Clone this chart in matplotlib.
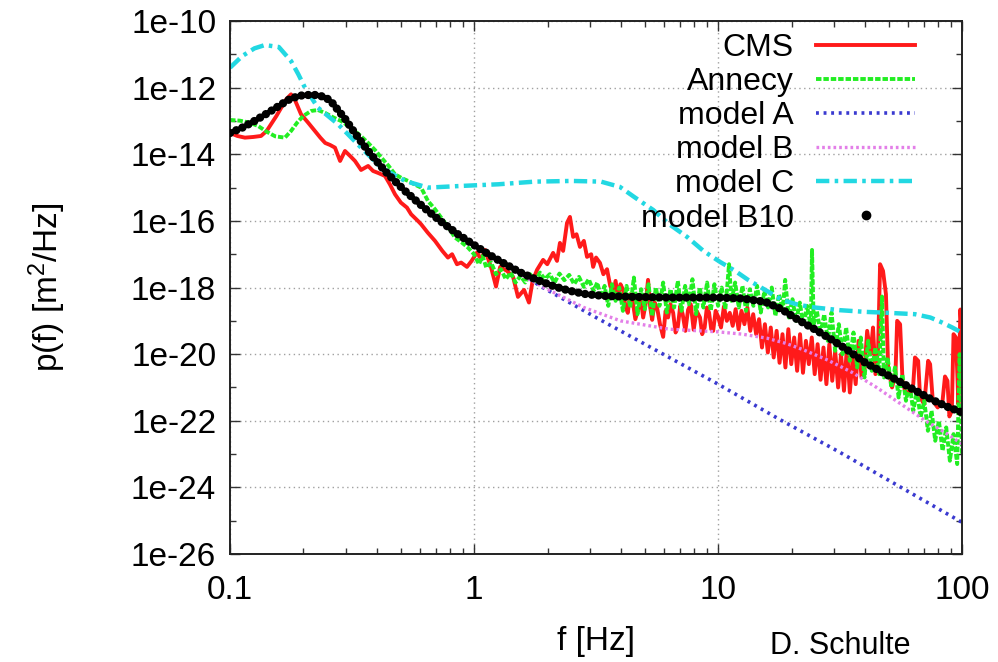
import numpy as np
import matplotlib.pyplot as plt
from matplotlib.lines import Line2D
from matplotlib.ticker import FixedLocator, FuncFormatter, NullFormatter

plt.rcParams['font.family'] = ['Liberation Sans', 'DejaVu Sans']
plt.rcParams['mathtext.fontset'] = 'custom'
plt.rcParams['mathtext.rm'] = 'Liberation Sans'
plt.rcParams['mathtext.it'] = 'Liberation Sans'

# (log10 f, log10 p)
cms = np.array([
    (-1.000, -13.36), (-0.970, -13.45), (-0.939, -13.50), (-0.905, -13.48), (-0.873, -13.45),
    (-0.850, -13.30), (-0.832, -13.10), (-0.810, -12.85), (-0.790, -12.60), (-0.770, -12.35),
    (-0.750, -12.20), (-0.734, -12.37), (-0.709, -12.80), (-0.680, -13.05), (-0.652, -13.30),
    (-0.630, -13.50), (-0.610, -13.66), (-0.590, -13.72), (-0.570, -13.80), (-0.549, -14.20),
    (-0.529, -13.90), (-0.508, -14.05), (-0.488, -14.20), (-0.463, -14.47), (-0.434, -14.35),
    (-0.414, -14.50), (-0.393, -14.56), (-0.365, -14.65), (-0.345, -14.90), (-0.324, -15.20),
    (-0.300, -15.45), (-0.275, -15.60), (-0.258, -15.80), (-0.230, -16.00), (-0.217, -16.10),
    (-0.190, -16.35), (-0.160, -16.60), (-0.130, -16.90), (-0.107, -17.10), (-0.090, -17.00),
    (-0.070, -17.30), (-0.053, -17.25), (-0.029, -17.38), (-0.010, -17.20), (0.012, -16.95),
    (0.029, -17.15), (0.045, -16.87), (0.070, -17.40), (0.090, -17.97), (0.107, -17.38),
    (0.135, -17.50), (0.160, -17.68), (0.180, -18.28), (0.205, -18.07), (0.225, -18.45),
    (0.240, -17.80), (0.258, -17.47), (0.283, -17.17), (0.300, -17.30), (0.324, -16.96),
    (0.340, -17.20), (0.352, -16.66), (0.365, -16.90), (0.381, -16.06), (0.393, -15.88),
    (0.406, -16.48), (0.420, -16.40), (0.434, -16.78), (0.450, -16.60), (0.463, -17.08),
    (0.480, -17.00), (0.488, -17.38), (0.500, -17.10), (0.516, -17.26), (0.530, -17.60),
    (0.545, -17.45), (0.558, -17.95), (0.570, -18.16), (0.580, -17.80), (0.590, -18.30),
    (0.600, -17.90), (0.611, -18.07), (0.620, -18.55), (0.630, -18.76), (0.640, -18.20),
    (0.650, -18.40), (0.661, -18.95), (0.672, -18.67), (0.683, -18.30), (0.693, -18.90),
    (0.703, -18.50), (0.713, -17.77), (0.722, -18.60), (0.730, -18.97), (0.740, -18.45),
    (0.750, -18.60), (0.762, -19.10), (0.775, -19.48), (0.785, -18.70), (0.795, -18.90),
    (0.805, -18.50), (0.816, -18.76), (0.826, -19.35), (0.835, -19.18), (0.845, -18.55),
    (0.855, -18.80), (0.866, -19.30), (0.877, -18.67), (0.888, -18.50), (0.900, -19.27),
    (0.912, -18.70), (0.926, -18.90), (0.935, -19.40), (0.945, -19.20), (0.954, -18.60),
    (0.963, -18.75), (0.972, -19.25), (0.980, -19.30), (0.990, -18.70),
    (1.000, -18.87), (1.012, -19.20), (1.024, -18.57), (1.036, -19.00),
    (1.048, -18.76), (1.060, -19.15), (1.072, -18.65), (1.084, -19.25), (1.096, -18.70),
    (1.108, -19.10), (1.120, -18.60), (1.132, -19.30), (1.144, -18.80), (1.156, -19.40),
    (1.168, -18.95), (1.180, -19.80), (1.192, -19.10), (1.204, -19.95), (1.216, -19.20),
    (1.228, -20.10), (1.240, -19.30), (1.252, -20.26), (1.264, -19.40), (1.276, -20.40),
    (1.288, -19.25), (1.300, -20.30), (1.312, -19.50), (1.324, -20.50), (1.336, -19.40),
    (1.348, -20.56), (1.360, -19.60), (1.372, -20.30), (1.384, -19.50), (1.396, -20.60),
    (1.408, -19.70), (1.420, -20.77), (1.432, -19.80), (1.444, -20.90), (1.456, -19.70),
    (1.468, -20.80), (1.480, -19.90), (1.492, -21.00), (1.504, -20.00), (1.516, -21.10),
    (1.528, -19.80), (1.540, -21.15), (1.552, -20.10), (1.564, -20.90), (1.576, -19.60),
    (1.588, -20.70), (1.600, -20.50), (1.611, -19.30), (1.625, -20.00), (1.635, -19.20),
    (1.645, -20.60), (1.656, -19.80), (1.664, -17.30), (1.676, -17.50), (1.688, -18.20),
    (1.697, -20.40), (1.713, -21.00), (1.727, -20.60), (1.734, -19.00), (1.746, -19.10),
    (1.756, -20.80), (1.766, -21.10), (1.787, -21.20), (1.800, -20.90), (1.807, -20.10),
    (1.820, -20.20), (1.828, -21.30), (1.845, -21.50), (1.861, -20.20), (1.869, -20.30),
    (1.880, -21.40), (1.900, -21.60), (1.920, -21.40), (1.930, -20.67), (1.940, -20.80),
    (1.948, -21.87), (1.958, -21.70), (1.965, -19.40), (1.975, -19.50), (1.985, -21.50),
    (1.993, -18.66), (2.000, -19.50),
])

annecy = np.array([
    (-1.000, -12.97), (-0.960, -12.99), (-0.920, -13.05), (-0.885, -13.15), (-0.850, -13.32),
    (-0.815, -13.46), (-0.775, -13.50), (-0.750, -13.30), (-0.725, -13.05), (-0.700, -12.85),
    (-0.668, -12.70), (-0.640, -12.67), (-0.610, -12.76), (-0.575, -12.90), (-0.545, -13.00),
    (-0.515, -13.15), (-0.488, -13.30), (-0.460, -13.48), (-0.434, -13.66), (-0.405, -13.88),
    (-0.380, -14.10), (-0.350, -14.35), (-0.324, -14.60), (-0.295, -14.72), (-0.270, -14.80),
    (-0.245, -14.90), (-0.217, -15.00), (-0.189, -15.40), (-0.160, -15.65), (-0.135, -15.90),
    (-0.105, -16.20), (-0.078, -16.50), (-0.050, -16.65), (-0.025, -16.80), (0.000, -17.00),
    (0.020, -17.30), (0.035, -17.05), (0.050, -17.40), (0.070, -17.25), (0.090, -17.60),
    (0.110, -17.45), (0.130, -17.75), (0.150, -17.55), (0.170, -17.85), (0.190, -17.65),
    (0.210, -17.85), (0.230, -17.60), (0.250, -17.82), (0.270, -17.55), (0.290, -17.75),
    (0.310, -17.60), (0.330, -17.85), (0.350, -17.58), (0.370, -17.78), (0.390, -17.62),
    (0.410, -17.90), (0.430, -17.68), (0.450, -17.98), (0.470, -17.75), (0.490, -18.10),
    (0.505, -17.85), (0.520, -18.30), (0.535, -17.95), (0.550, -18.55), (0.565, -17.90),
    (0.580, -18.40), (0.595, -18.00), (0.610, -18.70), (0.625, -17.95), (0.640, -18.60),
    (0.655, -17.70), (0.670, -18.80), (0.685, -18.05), (0.700, -18.65), (0.715, -17.90),
    (0.730, -18.85), (0.745, -18.00), (0.760, -18.55), (0.775, -17.85), (0.790, -18.75),
    (0.805, -18.05), (0.820, -18.60), (0.835, -17.80), (0.850, -18.70), (0.865, -17.95),
    (0.880, -18.50), (0.895, -17.75), (0.910, -18.80), (0.925, -18.00), (0.940, -18.60),
    (0.955, -17.85), (0.970, -18.70), (0.985, -17.90), (1.000, -18.55), (1.015, -18.00),
    (1.030, -18.65), (1.045, -17.30), (1.055, -18.40), (1.070, -17.85), (1.085, -18.60),
    (1.100, -17.95), (1.115, -18.70), (1.130, -18.05), (1.145, -18.55), (1.160, -17.95),
    (1.175, -18.75), (1.190, -18.10), (1.205, -18.60), (1.220, -18.00), (1.235, -18.85),
    (1.250, -18.20), (1.265, -18.70), (1.275, -17.77), (1.290, -18.90), (1.305, -18.35),
    (1.320, -19.00), (1.335, -18.45), (1.350, -19.15), (1.365, -18.55), (1.380, -19.20),
    (1.385, -16.87), (1.392, -19.10), (1.405, -18.70), (1.420, -19.40), (1.435, -18.80),
    (1.450, -19.60), (1.465, -18.75), (1.480, -19.90), (1.495, -19.10), (1.510, -20.00),
    (1.525, -19.20), (1.540, -20.20), (1.555, -19.35), (1.570, -20.40), (1.585, -19.50),
    (1.600, -20.70), (1.615, -19.60), (1.630, -20.50), (1.645, -19.80), (1.660, -20.60),
    (1.672, -18.27), (1.680, -20.70), (1.695, -20.10), (1.710, -21.00), (1.725, -20.40),
    (1.740, -21.30), (1.755, -20.60), (1.770, -21.40), (1.785, -20.90), (1.800, -21.70),
    (1.815, -21.10), (1.830, -21.90), (1.845, -21.40), (1.860, -22.30), (1.875, -21.70),
    (1.890, -22.60), (1.905, -22.00), (1.920, -22.90), (1.935, -22.20), (1.950, -23.20),
    (1.965, -22.40), (1.980, -23.30), (1.990, -20.00), (2.000, -23.00),
])

model_a = np.array([
    (0.15, -17.35), (0.27, -17.95), (0.50, -18.90), (0.75, -19.90), (1.00, -20.90),
    (1.25, -21.95), (1.50, -22.95), (1.75, -24.00), (2.00, -25.05),
])

model_b = np.array([
    (0.20, -17.65), (0.30, -18.05), (0.45, -18.60), (0.60, -19.00), (0.80, -19.25),
    (1.00, -19.33), (1.10, -19.40), (1.20, -19.52), (1.28, -19.68), (1.35, -19.87),
    (1.45, -20.18), (1.55, -20.55), (1.65, -21.00), (1.75, -21.50), (1.85, -22.00),
    (1.93, -22.35), (2.00, -22.70),
])

model_c = np.array([
    (-1.000, -11.40), (-0.950, -11.05), (-0.900, -10.82), (-0.857, -10.72), (-0.800, -10.78),
    (-0.750, -11.20), (-0.720, -11.60), (-0.693, -12.00), (-0.640, -12.60), (-0.557, -13.10),
    (-0.463, -13.80), (-0.380, -14.40), (-0.283, -14.80), (-0.189, -15.00), (-0.053, -14.95),
    (0.100, -14.90), (0.250, -14.82), (0.400, -14.80), (0.520, -14.82), (0.598, -14.98),
    (0.660, -15.30), (0.734, -15.67), (0.800, -16.10), (0.873, -16.48), (0.940, -16.90),
    (1.008, -17.23), (1.070, -17.50), (1.123, -17.77), (1.200, -18.10), (1.262, -18.37),
    (1.330, -18.52), (1.398, -18.60), (1.500, -18.68), (1.602, -18.73), (1.700, -18.76),
    (1.807, -18.80), (1.870, -18.90), (1.918, -19.05), (1.960, -19.20), (2.000, -19.36),
])

model_b10 = np.array([
    (-1.000, -13.36), (-0.950, -13.20), (-0.900, -13.00), (-0.850, -12.78), (-0.800, -12.55),
    (-0.762, -12.37), (-0.720, -12.25), (-0.693, -12.22), (-0.650, -12.22), (-0.611, -12.28),
    (-0.585, -12.42), (-0.560, -12.65), (-0.530, -12.92), (-0.504, -13.20), (-0.470, -13.55),
    (-0.434, -13.90), (-0.400, -14.20), (-0.365, -14.50), (-0.325, -14.80), (-0.283, -15.10),
    (-0.240, -15.38), (-0.189, -15.70), (-0.130, -16.05), (-0.066, -16.40), (0.016, -16.80),
    (0.070, -17.05), (0.119, -17.26), (0.190, -17.55), (0.258, -17.77), (0.330, -17.97),
    (0.393, -18.10), (0.460, -18.20), (0.529, -18.25), (0.650, -18.28), (0.800, -18.30),
    (1.000, -18.30), (1.100, -18.33), (1.193, -18.43), (1.260, -18.65), (1.328, -18.97),
    (1.400, -19.27), (1.467, -19.57), (1.535, -19.90), (1.602, -20.25), (1.670, -20.53),
    (1.738, -20.80), (1.810, -21.10), (1.877, -21.37), (1.940, -21.58), (2.000, -21.75),
])

x_ticks = [0.1, 1, 10, 100]
x_labels = ['0.1', '1', '10', '100']
y_major = [10.0 ** e for e in range(-26, -9, 2)]
y_minor = [10.0 ** e for e in range(-25, -10, 2)]

fig = plt.figure(figsize=(9.98, 6.62), dpi=100)
ax = fig.add_axes([0.2305, 0.1631, 0.7335, 0.8051])


def xy(a):
    return 10 ** a[:, 0], 10 ** a[:, 1]


ax.plot(*xy(cms), color='#ff1a1a', lw=2.8, label='CMS')
ax.plot(*xy(annecy), color='#22ee22', lw=2.8, ls=(0, (1.4, 0.5)), label='Annecy')
ax.plot(*xy(model_a), color='#3a3ad0', lw=2.6, ls=(0, (0.8, 1.3)), label='model A')
ax.plot(*xy(model_b), color='#e37fe8', lw=2.4, ls=(0, (0.8, 0.9)), label='model B')
ax.plot(*xy(model_c), color='#22d8e2', lw=3.2, ls=(0, (3.0, 1.2, 0.8, 1.2)), label='model C')
ax.plot(*xy(model_b10), color='black', lw=6, ls=(0, (0.01, 0.8)),
        dash_capstyle='round', zorder=5)

ax.set_xscale('log')
ax.set_yscale('log')
ax.set_xlim(0.1, 100)
ax.set_ylim(1e-26, 1e-10)

ax.xaxis.set_major_locator(FixedLocator(x_ticks))
ax.xaxis.set_major_formatter(FuncFormatter(lambda v, p: x_labels[x_ticks.index(v)] if v in x_ticks else ''))
ax.yaxis.set_major_locator(FixedLocator(y_major))
ax.yaxis.set_minor_locator(FixedLocator(y_minor))
ax.yaxis.set_major_formatter(FuncFormatter(lambda v, p: '1e%d' % round(np.log10(v))))
ax.yaxis.set_minor_formatter(NullFormatter())
ax.xaxis.set_minor_formatter(NullFormatter())

ax.tick_params(which='both', direction='in', top=True, right=True, width=1.0, color='#333333')
ax.tick_params(which='major', length=7)
ax.tick_params(which='minor', length=4)
ax.tick_params(axis='x', which='major', labelsize=24, pad=15)
ax.tick_params(axis='y', which='major', labelsize=24, pad=10)

ax.grid(True, which='major', color='#a0a0a0', ls=(0, (1, 2.5)), lw=1.0)
for s in ax.spines.values():
    s.set_linewidth(1.4)
    s.set_color('#222222')

ax.set_xlabel('f [Hz]', fontsize=24)
ax.xaxis.set_label_coords(0.5, -0.135)
ax.set_ylabel('p(f) [m$^2$/Hz]', fontsize=24)
ax.yaxis.set_label_coords(-0.222, 0.5)

handles, labels = ax.get_legend_handles_labels()
handles.append(Line2D([], [], color='black', marker='o', ls='none', ms=6))
labels.append('model B10')
ax.legend(handles, labels, loc='upper right', bbox_to_anchor=(0.936, 0.978),
          frameon=False, fontsize=23, markerfirst=False, handlelength=3.1,
          handletextpad=0.7, labelspacing=0.13, borderpad=0, borderaxespad=0,
          numpoints=1)

fig.text(0.772, 0.002, 'D. Schulte', fontsize=22, va='bottom')

fig.savefig('out.png', dpi=100)
